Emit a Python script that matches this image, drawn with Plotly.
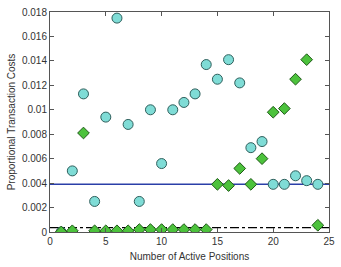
import plotly.graph_objects as go

positions = list(range(1, 25))
cyan_costs = [0.0, 0.0050, 0.0113, 0.0025, 0.0094, 0.0175, 0.0088, 0.0025, 0.0100, 0.0056,
              0.0100, 0.0106, 0.0113, 0.0137, 0.0125, 0.0141, 0.0122, 0.0069, 0.0074, 0.0039,
              0.0039, 0.0046, 0.0042, 0.0039]
green_costs = [0.0, 0.0001, 0.0081, 0.0001, 0.0001, 0.0001, 0.0001, 0.0002, 0.0002, 0.0002,
               0.0002, 0.0002, 0.0002, 0.0002, 0.0039, 0.0038, 0.0052, 0.0039, 0.0060, 0.0098,
               0.0101, 0.0125, 0.0141, 0.00055]
blue_level = 0.0039
dashdot_level = 0.00035
x_range = [0, 25]
x_ticks = [0, 5, 10, 15, 20, 25]
y_ticks = [0, 0.002, 0.004, 0.006, 0.008, 0.01, 0.012, 0.014, 0.016, 0.018]
y_tick_labels = ["0", "0.002", "0.004", "0.006", "0.008", "0.01", "0.012", "0.014", "0.016", "0.018"]

fig = go.Figure()
fig.add_trace(go.Scatter(x=x_range, y=[blue_level, blue_level], mode="lines",
                         line=dict(color="#2b3fa8", width=1.5), showlegend=False))
fig.add_trace(go.Scatter(x=x_range, y=[dashdot_level, dashdot_level], mode="lines",
                         line=dict(color="black", width=1.2, dash="dashdot"), showlegend=False))
fig.add_trace(go.Scatter(x=positions, y=cyan_costs, mode="markers",
                         marker=dict(symbol="circle", size=10, color="#7fdcd6",
                                     line=dict(color="#2f5f5c", width=1)), showlegend=False))
fig.add_trace(go.Scatter(x=positions, y=green_costs, mode="markers",
                         marker=dict(symbol="diamond", size=9, color="#4cc23c",
                                     line=dict(color="#1f5a18", width=1)), showlegend=False))

axis_common = dict(showgrid=False, zeroline=False, showline=True, linecolor="#555555",
                   linewidth=1, mirror="ticks", ticks="inside", ticklen=4, tickcolor="#555555",
                   tickfont=dict(family="Liberation Sans, Arial", size=10, color="#333333"))
fig.update_xaxes(range=x_range, tickvals=x_ticks, **axis_common,
                 title=dict(text="Number of Active Positions",
                            font=dict(family="Liberation Sans, Arial", size=10, color="#333333"),
                            standoff=6))
fig.update_yaxes(range=[0, 0.018], tickvals=y_ticks, ticktext=y_tick_labels, **axis_common,
                 title=dict(text="Proportional Transaction Costs",
                            font=dict(family="Liberation Sans, Arial", size=10, color="#333333"),
                            standoff=4))
fig.update_layout(width=341, height=267, margin=dict(l=50, r=7, t=6, b=35),
                  plot_bgcolor="white", paper_bgcolor="white")
fig.write_html("out.html", config={"displayModeBar": False},
               post_script="document.body.style.margin='0';document.body.style.overflow='hidden';")
